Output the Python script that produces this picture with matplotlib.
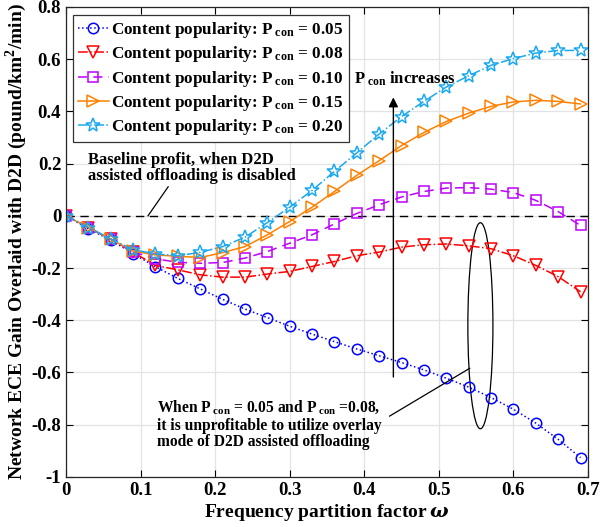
import numpy as np
import matplotlib
matplotlib.use("Agg")
import matplotlib.pyplot as plt
from matplotlib.patches import Ellipse

plt.rcParams['font.family'] = ['Liberation Serif', 'DejaVu Serif']
plt.rcParams['font.weight'] = 'bold'
plt.rcParams['mathtext.fontset'] = 'custom'
plt.rcParams['mathtext.rm'] = 'Liberation Serif:bold'
plt.rcParams['mathtext.bf'] = 'Liberation Serif:bold'
plt.rcParams['mathtext.it'] = 'DejaVu Serif:italic'

omega = [0.00, 0.03, 0.06, 0.09, 0.12, 0.15, 0.18, 0.21, 0.24, 0.27, 0.30, 0.33,
         0.36, 0.39, 0.42, 0.45, 0.48, 0.51, 0.54, 0.57, 0.60, 0.63, 0.66, 0.69]

p005 = [0, -0.05, -0.093, -0.145, -0.195, -0.24, -0.28, -0.32, -0.357, -0.39, -0.423, -0.453,
        -0.482, -0.51, -0.536, -0.562, -0.590, -0.622, -0.656, -0.696, -0.741, -0.794, -0.856, -0.926]
p008 = [0, -0.045, -0.09, -0.14, -0.19, -0.207, -0.226, -0.235, -0.235, -0.223, -0.213, -0.194,
        -0.175, -0.153, -0.139, -0.120, -0.111, -0.108, -0.115, -0.126, -0.153, -0.190, -0.233, -0.291]
p010 = [0, -0.045, -0.09, -0.138, -0.165, -0.178, -0.182, -0.179, -0.162, -0.137, -0.105, -0.073,
        -0.031, 0.009, 0.042, 0.072, 0.093, 0.106, 0.108, 0.102, 0.089, 0.059, 0.016, -0.037]
p015 = [0, -0.045, -0.09, -0.135, -0.150, -0.155, -0.160, -0.141, -0.118, -0.073, -0.022, 0.033,
        0.093, 0.155, 0.211, 0.269, 0.319, 0.361, 0.393, 0.419, 0.436, 0.442, 0.438, 0.428]
p020 = [0, -0.045, -0.088, -0.13, -0.146, -0.153, -0.140, -0.118, -0.082, -0.026, 0.033, 0.097,
        0.170, 0.241, 0.313, 0.380, 0.438, 0.493, 0.536, 0.576, 0.602, 0.623, 0.633, 0.633]

labels = ['0.05', '0.08', '0.10', '0.15', '0.20']
xticks = [0, 0.1, 0.2, 0.3, 0.4, 0.5, 0.6, 0.7]
yticks = [-1, -0.8, -0.6, -0.4, -0.2, 0, 0.2, 0.4, 0.6, 0.8]

fig = plt.figure(figsize=(6.0, 5.27), dpi=100)
ax = fig.add_axes([0.11, 0.095, 0.87, 0.892])

styles = [
    dict(color='#0000FF', ls=':', marker='o', ms=7.5),
    dict(color='#FF0000', ls='-.', marker='v', ms=8.5),
    dict(color='#BF00FF', ls='--', marker='s', ms=6.5, dashes=(6, 4)),
    dict(color='#FF8000', ls='-', marker='>', ms=8.5),
    dict(color='#1AA8F0', ls='-.', marker='*', ms=10),
]
series = [p005, p008, p010, p015, p020]
for ys, lab, st in zip(series, labels, styles):
    kw = dict(st)
    c = kw.pop('color')
    ax.plot(omega, ys, color=c, mfc='none', mec=c, mew=1.1, lw=1.1,
            label=r'Content popularity: P$\,_{\mathbf{con}}$ = ' + lab, **kw)

ax.axhline(0, color='black', ls='--', lw=1.0, dashes=(6, 4), zorder=1)

ax.set_xlim(0, 0.7)
ax.set_ylim(-1, 0.8)
ax.set_xticks(xticks)
ax.set_xticklabels([('%g' % v) for v in xticks])
ax.set_yticks(yticks)
ax.set_yticklabels([('%g' % v) for v in yticks])
ax.grid(True, color='#e3e3e3', lw=0.9)
ax.set_axisbelow(True)
ax.tick_params(direction='in', top=True, right=True, labelsize=13.5, length=5, width=0.8)
for s in ax.spines.values():
    s.set_linewidth(0.9)
    s.set_color('#262626')

ax.set_xlabel(r'Frequency partition factor$\,\mathit{\omega}$', fontsize=14, fontweight='bold', labelpad=2)
ax.set_ylabel(r'Network ECE Gain Overlaid with D2D (pound/km$^{\mathbf{2}}$/min)', fontsize=14,
              fontweight='bold', labelpad=2)

leg = ax.legend(loc='upper left', bbox_to_anchor=(0.013, 0.983), borderaxespad=0, fontsize=12.3,
                handlelength=1.8, handletextpad=0.15, labelspacing=0.25, borderpad=0.3, fancybox=False,
                edgecolor='#333333', framealpha=1)
leg.get_frame().set_linewidth(0.9)

# baseline annotation
ax.text(0.0295, 0.12, 'Baseline profit, when D2D\nassisted offloading is disabled', fontsize=12,
        fontweight='bold', ha='left', va='bottom', linespacing=1.0)
ax.plot([0.137, 0.110], [0.111, 0.0], color='black', lw=0.9)

# increasing arrow
ax.annotate('', xy=(0.439, 0.464), xytext=(0.439, -0.628),
            arrowprops=dict(arrowstyle='-|>', color='black', lw=1.0, mutation_scale=14))
ax.text(0.386, 0.525, r'P$\,_{\mathbf{con}}$ increases', fontsize=12, fontweight='bold', ha='left', va='center')

# ellipse
ax.add_patch(Ellipse((0.5557, -0.421), 0.0336, 0.789, fill=False, ec='black', lw=0.9))
ax.plot([0.434, 0.5414], [-0.767, -0.584], color='black', lw=0.9)
ax.text(0.122, -0.70,
        'When P$\\,_{\\mathbf{con}}$ = 0.05 and P$\\,_{\\mathbf{con}}$ =0.08,\nit is unprofitable to utilize overlay\nmode of D2D assisted offloading',
        fontsize=11.2, fontweight='bold', ha='left', va='top', linespacing=1.05)

fig.savefig('out.png', dpi=100)
